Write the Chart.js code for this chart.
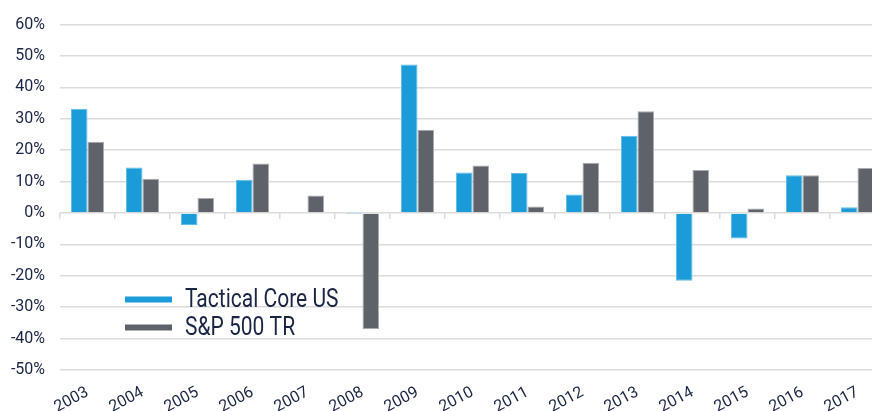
<!DOCTYPE html>
<html>
<head>
<meta charset="utf-8">
<script src="https://cdn.jsdelivr.net/npm/chart.js@4"></script>
<style>
  html, body { margin: 0; padding: 0; background: #fff; overflow: hidden; }
  #wrap { width: 885px; height: 411px; }
</style>
</head>
<body>
<div id="wrap"><canvas id="returns"></canvas></div>
<script>
// annual returns, %
var years = ['2003','2004','2005','2006','2007','2008','2009','2010','2011','2012','2013','2014','2015','2016','2017'];
var tactical = [33.2, 14.5, -3.8, 10.6, -0.2, -0.1, 47.3, 12.9, 12.7, 5.9, 24.6, -21.6, -8.1, 12.0, 1.8];
var sp500 = [22.7, 10.9, 4.8, 15.8, 5.6, -37.0, 26.5, 15.1, 2.1, 16.0, 32.4, 13.7, 1.4, 12.0, 14.3];

var textColor = '#1a2444';
var gridColor = '#dcdcdc';
var fontFamily = "Roboto, sans-serif";

// legend drawn inside the plot, bottom left (text squeezed a bit to look condensed)
var innerLegend = {
  id: 'innerLegend',
  afterDraw: function (chart) {
    var ctx = chart.ctx;
    var area = chart.chartArea;
    var x0 = area.left + 65, y0 = area.top + 275;
    ctx.save();
    chart.data.datasets.forEach(function (ds, i) {
      var y = y0 + i * 28;
      ctx.strokeStyle = ds.backgroundColor;
      ctx.lineWidth = 6;
      ctx.beginPath();
      ctx.moveTo(x0, y);
      ctx.lineTo(x0 + 47, y);
      ctx.stroke();
      ctx.save();
      ctx.translate(x0 + 60, y + 1);
      ctx.scale(0.84, 1);
      ctx.fillStyle = textColor;
      ctx.font = '25px ' + fontFamily;
      ctx.textBaseline = 'middle';
      ctx.fillText(ds.label, 0, 0);
      ctx.restore();
    });
    ctx.restore();
  }
};

new Chart('returns', {
  type: 'bar',
  data: {
    labels: years,
    datasets: [{
      label: 'Tactical Core US',
      data: tactical,
      backgroundColor: '#1b9bd7',
      borderColor: '#62bde8',
      borderWidth: 1,
      barPercentage: 1,
      categoryPercentage: 0.6
    }, {
      label: 'S&P 500 TR',
      data: sp500,
      backgroundColor: '#5f6369',
      borderColor: '#a9abae',
      borderWidth: 1,
      barPercentage: 1,
      categoryPercentage: 0.6
    }]
  },
  options: {
    responsive: true,
    maintainAspectRatio: false,
    animation: false,
    layout: { padding: { top: 22, left: 0, right: 0, bottom: 0 } },
    plugins: {
      legend: { display: false },
      tooltip: { enabled: false }
    },
    scales: {
      x: {
        grid: { display: false },
        border: { display: false },
        ticks: {
          color: textColor,
          font: { family: fontFamily, size: 16 },
          minRotation: 28,
          maxRotation: 28,
          padding: 5
        },
        afterFit: function (scale) { scale.height = 41; }
      },
      x2: {
        type: 'category',
        labels: years,
        position: { y: 0 },
        offset: true,
        grid: { offset: true, drawOnChartArea: false, color: gridColor, lineWidth: 1.5, tickLength: 6 },
        border: { display: false },
        ticks: { display: false }
      },
      y: {
        min: -50,
        max: 60,
        ticks: {
          stepSize: 10,
          color: textColor,
          font: { family: fontFamily, size: 16 },
          padding: 15,
          callback: function (v) { return v + '%'; }
        },
        grid: { color: gridColor, lineWidth: 1.5, drawTicks: false },
        border: { display: false },
        afterFit: function (scale) { scale.width = 60; }
      }
    }
  },
  plugins: [innerLegend]
});
</script>
</body>
</html>
